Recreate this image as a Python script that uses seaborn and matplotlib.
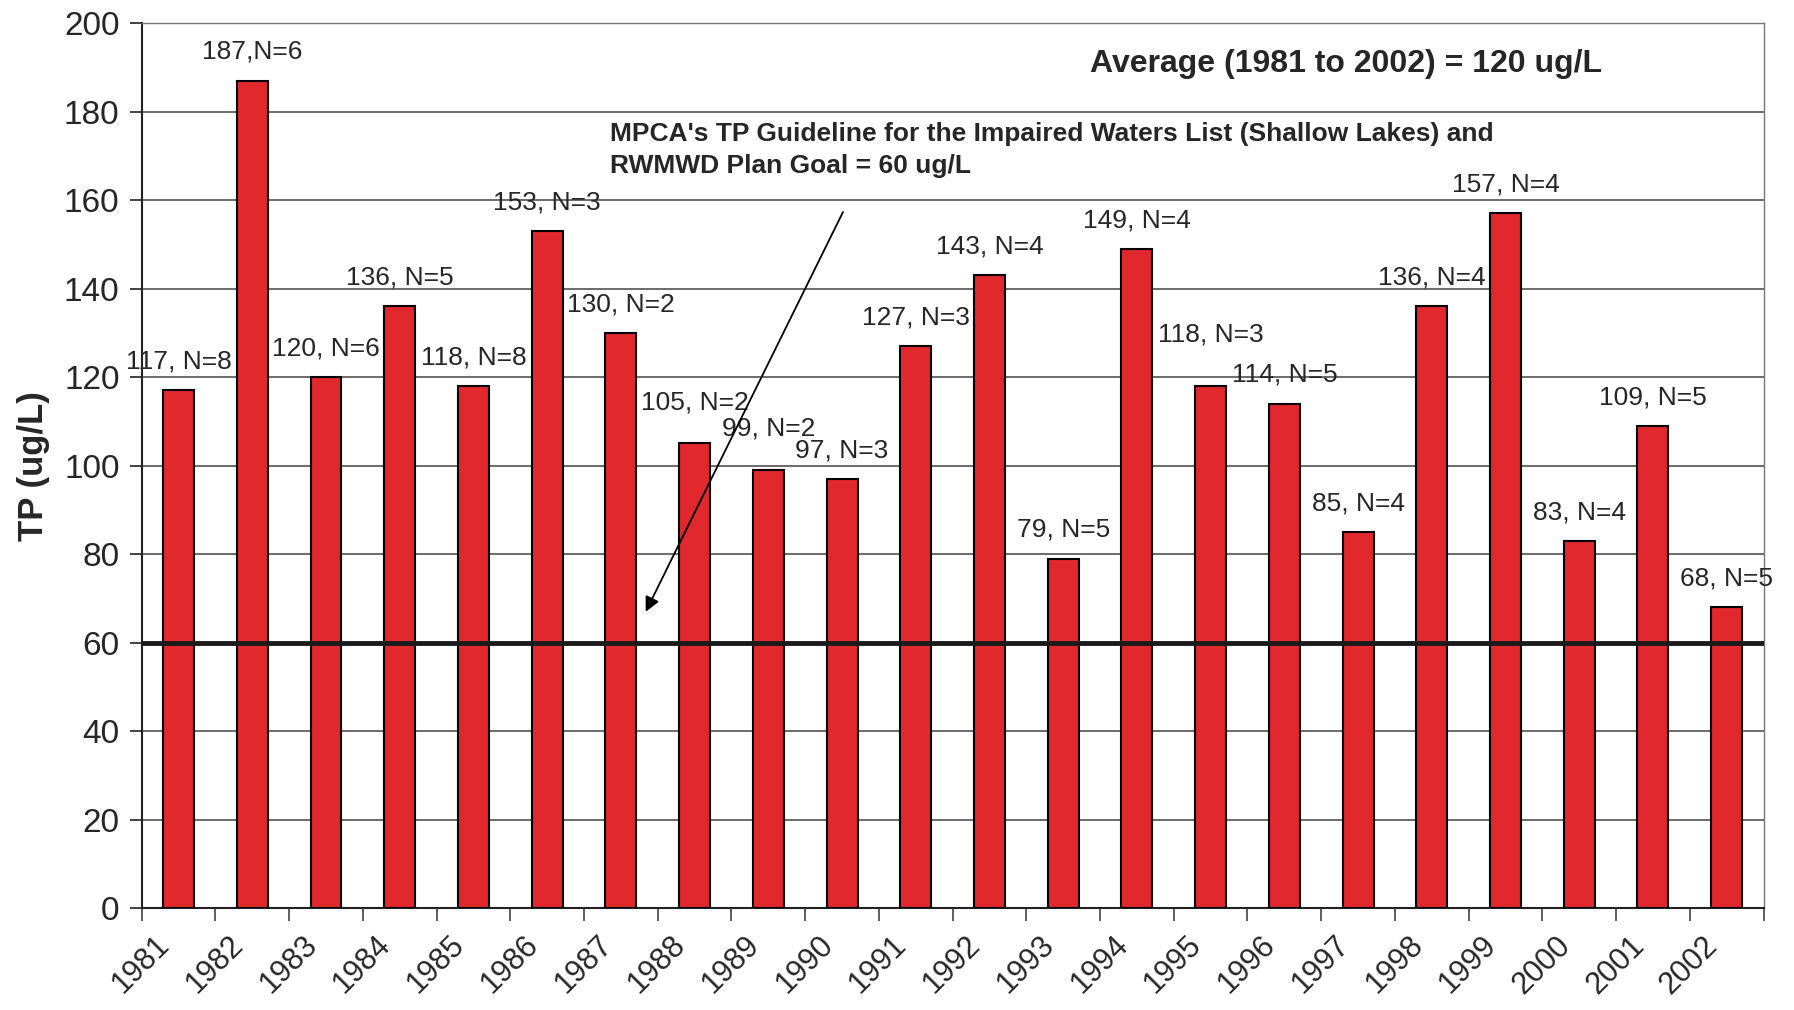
import pandas as pd
import seaborn as sns
import matplotlib.pyplot as plt
import matplotlib.transforms as mtransforms
from matplotlib.ticker import FixedLocator, MultipleLocator

years = ["1981", "1982", "1983", "1984", "1985", "1986", "1987", "1988", "1989", "1990", "1991",
         "1992", "1993", "1994", "1995", "1996", "1997", "1998", "1999", "2000", "2001", "2002"]
tp = [117, 187, 120, 136, 118, 153, 130, 105, 99, 97, 127, 143, 79, 149, 118, 114, 85, 136, 157, 83, 109, 68]
bar_labels = ["117, N=8", "187,N=6", "120, N=6", "136, N=5", "118, N=8", "153, N=3", "130, N=2",
              "105, N=2", "99, N=2", "97, N=3", "127, N=3", "143, N=4", "79, N=5", "149, N=4",
              "118, N=3", "114, N=5", "85, N=4", "136, N=4", "157, N=4", "83, N=4", "109, N=5", "68, N=5"]
guideline = 60
average_text = "Average (1981 to 2002) = 120 ug/L"
guideline_text = "MPCA's TP Guideline for the Impaired Waters List (Shallow Lakes) and\nRWMWD Plan Goal = 60 ug/L"

# how far above each bar its label sits (data units); a few were nudged up in the original
label_lift = [6.5] * len(tp)
label_lift[7] = 9.2
label_lift[8] = 9.5
label_lift[14] = 11.7

df = pd.DataFrame({"year": years, "tp": tp})

sns.set_theme(style="white")
plt.rcParams["font.family"] = ["Liberation Sans", "DejaVu Sans"]

fig = plt.figure(figsize=(17.94, 10.10), dpi=100)
ax = fig.add_axes([0.079, 0.101, 0.904, 0.876])

sns.barplot(data=df, x="year", y="tp", color="#E0282D", width=0.42,
            edgecolor="black", linewidth=1.5, saturation=1, ax=ax, zorder=3)

ax.set_ylim(0, 200)
ax.set_xlim(-0.5, len(years) - 0.5)
ax.yaxis.set_major_locator(MultipleLocator(20))
ax.grid(axis="y", color="#444444", linewidth=1.1, zorder=0)
ax.set_axisbelow(True)

for s in ["left", "bottom"]:
    ax.spines[s].set_color("#222222")
    ax.spines[s].set_linewidth(1.5)
for s in ["top", "right"]:
    ax.spines[s].set_color("#777777")
    ax.spines[s].set_linewidth(1.0)

ax.tick_params(axis="y", which="major", left=True, length=9, width=1.2, color="#222222",
               labelsize=24, pad=7)
ax.tick_params(axis="x", which="major", bottom=False, labelsize=22, pad=10)
ax.xaxis.set_minor_locator(FixedLocator([i - 0.5 for i in range(len(years) + 1)]))
ax.tick_params(axis="x", which="minor", bottom=True, length=9, width=1.2, color="#444444")
shift = mtransforms.ScaledTranslation(-24 / 100, 0, fig.dpi_scale_trans)
for lbl in ax.get_xticklabels():
    lbl.set_rotation(45)
    lbl.set_ha("right")
    lbl.set_rotation_mode("anchor")
    lbl.set_transform(lbl.get_transform() + shift)

ax.set_xlabel("")
ax.set_ylabel("TP (ug/L)", fontsize=25, fontweight="bold", labelpad=10)

ax.axhline(guideline, color="#1a1a1a", linewidth=3.5, zorder=4)

for i, (v, txt) in enumerate(zip(tp, bar_labels)):
    ax.text(i, v + label_lift[i], txt, ha="center", va="center", fontsize=19, zorder=5)

ax.text(15.83, 190.7, average_text, ha="center", va="center", fontsize=23, fontweight="bold")
ax.text(5.85, 171.3, guideline_text, ha="left", va="center", fontsize=19, fontweight="bold",
        linespacing=1.45)
ax.annotate("", xy=(6.32, 66.4), xytext=(9.03, 157.9),
            arrowprops=dict(arrowstyle="-|>", color="black", lw=1.3, mutation_scale=22), zorder=6)

fig.savefig("out.png", dpi=100)
